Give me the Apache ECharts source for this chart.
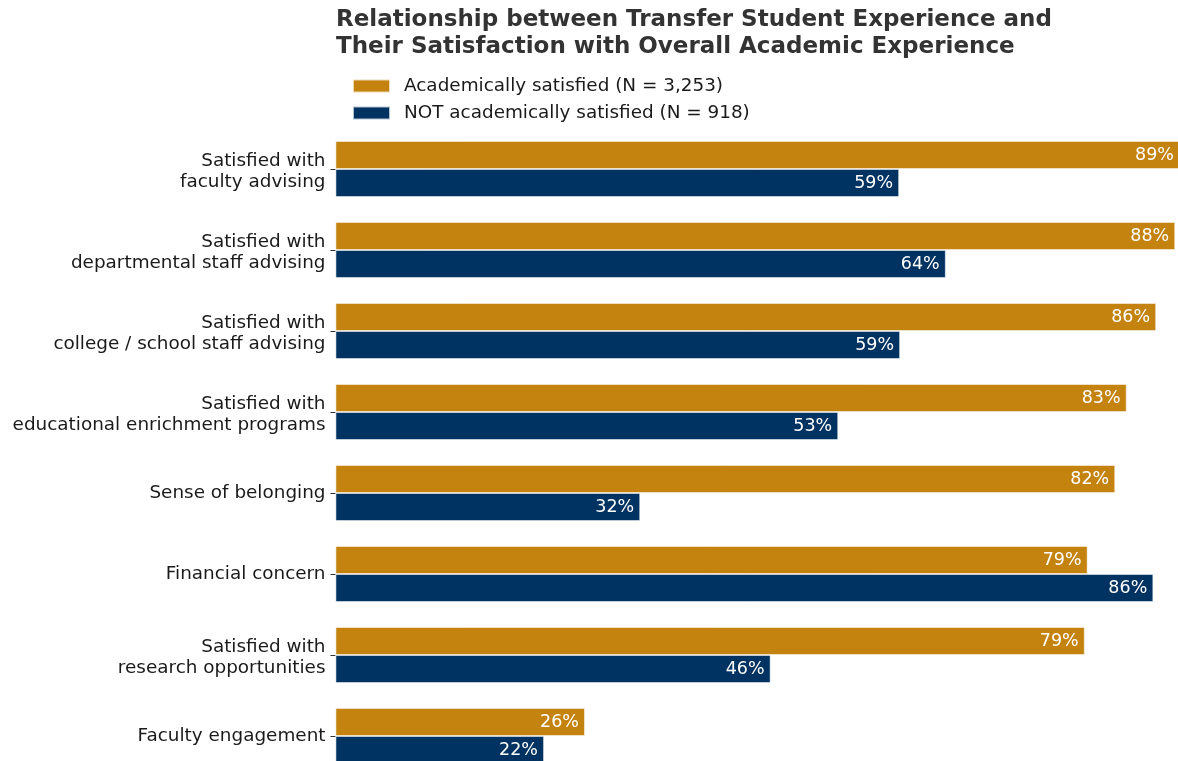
<!DOCTYPE html>
<html>
<head>
<meta charset="utf-8">
<script src="https://cdn.jsdelivr.net/npm/echarts@6/dist/echarts.min.js"></script>
<style>
html,body{margin:0;padding:0;background:#fff;}
#chart{width:1178px;height:761px;}
</style>
</head>
<body>
<div id="chart"></div>
<script>
const titleText = 'Relationship between Transfer Student Experience and\nTheir Satisfaction with Overall Academic Experience';
const categories = [
  'Satisfied with\nfaculty advising',
  'Satisfied with\ndepartmental staff advising',
  'Satisfied with\ncollege / school staff advising',
  'Satisfied with\neducational enrichment programs',
  'Sense of belonging',
  'Financial concern',
  'Satisfied with\nresearch opportunities',
  'Faculty engagement'
];
const seriesNames = ['Academically satisfied (N = 3,253)', 'NOT academically satisfied (N = 918)'];
const satisfied = [88.7, 88.2, 86.2, 83.1, 81.9, 79.0, 78.7, 26.2];
const notSatisfied = [59.2, 64.1, 59.3, 52.8, 32.0, 85.9, 45.7, 21.9];
const colors = ['#C4820E', '#003262'];

const font = 'DejaVu Sans';
const chart = echarts.init(document.getElementById('chart'), null, {renderer: 'canvas'});
const labelOpt = {
  show: true,
  position: 'insideRight',
  distance: 6,
  color: '#ffffff',
  fontFamily: font,
  fontSize: 17.5,
  formatter: p => Math.round(p.value) + '%'
};
chart.setOption({
  animation: false,
  backgroundColor: '#ffffff',
  title: {
    text: titleText,
    left: 331,
    top: 2,
    textStyle: {fontFamily: font, fontWeight: 'bold', fontSize: 23, lineHeight: 27, color: '#333333'}
  },
  legend: {
    orient: 'vertical',
    left: 352,
    top: 77,
    padding: 0,
    itemWidth: 37,
    itemHeight: 13,
    itemGap: 9,
    icon: 'rect',
    textStyle: {fontFamily: font, fontSize: 18.4, lineHeight: 18, color: '#1a1a1a', padding: [0, 0, 0, 9]},
    data: seriesNames
  },
  grid: {
    left: 335.5,
    top: 128.5,
    width: 952,
    height: 648,
    containLabel: false,
    outerBoundsMode: 'none'
  },
  xAxis: {
    type: 'value',
    min: 0,
    max: 100,
    show: false
  },
  yAxis: {
    type: 'category',
    inverse: true,
    data: categories,
    axisLine: {show: false},
    axisTick: {show: true, alignWithLabel: true, length: 5, lineStyle: {color: '#333333', width: 1}},
    axisLabel: {
      fontFamily: font, fontSize: 18.4, color: '#1a1a1a', margin: 10, align: 'right',
      formatter: v => {
        const parts = v.split('\n');
        if (parts.length < 2) return v;
        return '{a|' + parts[0] + '}\n{b|' + parts[1] + '}';
      },
      rich: {
        a: {fontFamily: font, fontSize: 18.4, color: '#1a1a1a', lineHeight: 27.4, verticalAlign: 'bottom', align: 'right'},
        b: {fontFamily: font, fontSize: 18.4, color: '#1a1a1a', lineHeight: 24.6, verticalAlign: 'middle', align: 'right'}
      }
    },
    splitLine: {show: false}
  },
  series: [
    {
      name: seriesNames[0],
      type: 'bar',
      data: satisfied,
      barWidth: 28,
      barGap: '0%',
      itemStyle: {color: colors[0], borderColor: 'rgba(255,255,255,0.7)', borderWidth: 0.8},
      label: labelOpt
    },
    {
      name: seriesNames[1],
      type: 'bar',
      data: notSatisfied,
      barWidth: 28,
      barGap: '0%',
      itemStyle: {color: colors[1], borderColor: 'rgba(255,255,255,0.7)', borderWidth: 0.8},
      label: labelOpt
    }
  ]
});
</script>
</body>
</html>
